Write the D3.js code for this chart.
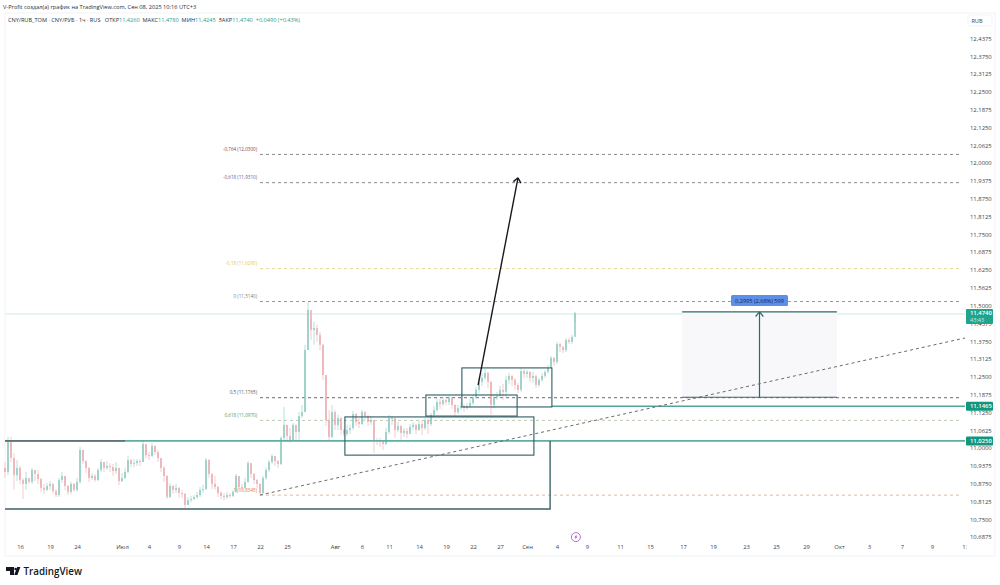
<!DOCTYPE html>
<html>
<head>
<meta charset="utf-8">
<script src="https://cdn.jsdelivr.net/npm/d3@7"></script>
<style>
	html, body { margin: 0; padding: 0; background: #fff; }
	text { font-family: "Open Sans", Roboto, sans-serif; }
</style>
</head>
<body>
<div id="chart"></div>
<script>
// CANDLES (one bar = 3 px of the original)
const closes = [10.916,11.028,10.965,10.905,10.930,10.888,10.874,10.895,10.881,10.923,10.909,10.891,10.860,10.853,10.867,10.874,10.849,10.835,10.888,10.902,10.867,10.846,10.874,10.853,10.881,10.993,10.954,10.930,10.895,10.902,10.888,10.923,10.951,10.930,10.937,10.933,10.919,10.930,10.884,10.895,10.916,10.958,10.944,10.947,10.954,10.951,11.014,10.975,10.972,11.007,10.986,10.965,10.930,10.902,10.828,10.867,10.853,10.860,10.842,10.839,10.800,10.817,10.821,10.828,10.835,10.853,10.856,10.958,10.909,10.874,10.863,10.842,10.832,10.828,10.835,10.832,10.846,10.902,10.863,10.860,10.881,10.947,10.909,10.888,10.874,10.842,10.895,10.923,10.951,10.972,10.954,10.944,11.035,11.081,11.042,11.028,11.081,11.056,11.112,11.126,11.344,11.484,11.414,11.421,11.397,11.362,11.256,11.098,11.039,11.126,11.081,11.105,11.063,11.049,11.063,11.070,11.119,11.091,11.084,11.126,11.112,11.091,11.098,11.028,11.025,11.021,11.014,11.056,11.105,11.105,11.063,11.077,11.053,11.060,11.049,11.074,11.081,11.063,11.084,11.070,11.098,11.084,11.116,11.133,11.161,11.154,11.168,11.161,11.176,11.151,11.126,11.140,11.147,11.140,11.147,11.158,11.176,11.204,11.232,11.246,11.263,11.232,11.151,11.179,11.183,11.204,11.197,11.239,11.253,11.239,11.221,11.204,11.270,11.260,11.267,11.246,11.253,11.221,11.239,11.253,11.267,11.281,11.316,11.302,11.365,11.355,11.344,11.379,11.372,11.390,11.474];
const highs = [10.951,11.039,11.039,10.982,10.958,10.937,10.895,10.916,10.888,10.930,10.923,10.923,10.895,10.874,10.877,10.884,10.877,10.856,10.895,10.916,10.902,10.870,10.881,10.877,10.895,11.004,10.993,10.958,10.933,10.912,10.909,10.930,10.961,10.951,10.954,10.947,10.944,10.951,10.930,10.912,10.930,10.972,10.961,10.961,10.961,10.961,11.025,11.014,10.986,11.018,11.011,10.993,10.965,10.937,10.905,10.877,10.870,10.874,10.863,10.853,10.842,10.828,10.832,10.835,10.846,10.863,10.870,10.965,10.961,10.912,10.902,10.867,10.849,10.842,10.846,10.842,10.853,10.909,10.902,10.874,10.895,10.954,10.947,10.912,10.891,10.877,10.902,10.933,10.958,10.979,10.972,10.958,11.042,11.144,11.081,11.070,11.088,11.081,11.126,11.151,11.362,11.512,11.456,11.442,11.432,11.407,11.365,11.256,11.133,11.151,11.133,11.116,11.109,11.070,11.081,11.081,11.130,11.123,11.105,11.133,11.130,11.116,11.112,11.098,11.035,11.035,11.028,11.070,11.116,11.112,11.105,11.091,11.081,11.070,11.070,11.084,11.091,11.084,11.095,11.098,11.105,11.105,11.123,11.147,11.176,11.172,11.179,11.176,11.183,11.179,11.154,11.151,11.161,11.154,11.158,11.172,11.186,11.214,11.246,11.263,11.277,11.267,11.235,11.190,11.197,11.218,11.225,11.253,11.263,11.256,11.246,11.228,11.281,11.277,11.274,11.270,11.267,11.256,11.246,11.263,11.274,11.291,11.323,11.319,11.372,11.369,11.358,11.386,11.386,11.397,11.477];
const lows = [10.895,10.905,10.951,10.853,10.884,10.874,10.821,10.853,10.874,10.874,10.884,10.874,10.846,10.839,10.849,10.853,10.839,10.828,10.828,10.877,10.853,10.835,10.839,10.846,10.846,10.874,10.944,10.912,10.881,10.888,10.881,10.884,10.916,10.916,10.923,10.916,10.902,10.909,10.870,10.881,10.891,10.912,10.933,10.933,10.937,10.937,10.951,10.965,10.958,10.968,10.975,10.951,10.916,10.881,10.821,10.825,10.839,10.842,10.825,10.825,10.789,10.800,10.810,10.817,10.821,10.828,10.842,10.853,10.895,10.856,10.853,10.828,10.821,10.817,10.821,10.825,10.828,10.842,10.846,10.849,10.853,10.877,10.895,10.874,10.860,10.835,10.839,10.888,10.916,10.944,10.937,10.930,10.940,11.028,11.021,11.018,11.025,11.028,11.021,11.105,11.126,11.344,11.379,11.362,11.372,11.344,11.239,11.077,11.025,11.035,11.063,11.063,11.046,11.039,11.042,11.049,11.063,11.077,11.070,11.081,11.098,11.077,11.081,10.982,11.011,11.004,10.993,11.011,11.049,11.081,11.035,11.056,11.028,11.039,11.035,11.060,11.063,11.049,11.060,11.046,11.063,11.049,11.077,11.109,11.126,11.137,11.147,11.151,11.151,11.137,11.112,11.119,11.133,11.126,11.133,11.140,11.151,11.172,11.193,11.218,11.239,11.211,11.116,11.140,11.168,11.176,11.168,11.176,11.225,11.218,11.204,11.193,11.197,11.246,11.246,11.232,11.228,11.211,11.214,11.232,11.246,11.260,11.281,11.288,11.295,11.337,11.333,11.337,11.365,11.365,11.442];

// AXIS
const priceTicks = [12.4375,12.375,12.3125,12.25,12.1875,12.125,12.0625,12,11.9375,11.875,11.8125,11.75,11.6875,11.625,11.5625,11.5,11.4375,11.375,11.3125,11.25,11.1875,11.125,11.0625,11,10.9375,10.875,10.8125,10.75,10.6875];
const timeBars = [5,15,24,39,48,58,67,76,85,94,110,119,128,138,147,156,165,174,184,194,205,215,226,236,247,257,267,278,288,299,309,320];
const timeLabels = ["16","19","24","Июл","4","9","14","17","22","25","Авг","6","11","14","19","22","27","Сен","4","9","11","15","17","19","23","25","29","Окт","3","7","9","13"];

// DRAWINGS
const fibLevels = [12.03,11.931,11.6295,11.514,11.1765,11.097,10.8345];
const fibLabels = ["-0,764 (12,0300)","-0,618 (11,9310)","-0,18 (11,6295)","0 (11,5140)","0,5 (11,1765)","0,618 (11,0970)","1 (10,8345)"];
const fibText = ["#8f3a48","#6a5a9c","#e8c84a","#808080","#555555","#4f9a50","#e07a30"];
const fibLine = ["#8a8a8a","#8a8a8a","#e6d998","#999999","#6a6a6a","#b9c9b2","#dfb9a0"];
const boxBars = [[113.3,176.3],[140.3,170.7],[152.3,182.3]];
const boxPrices = [[11.109,10.975],[11.186,11.112],[11.281,11.144]];
const lastPrice = 11.474;

const width = 1000, height = 585;
const panelLeft = 5, panelRight = 965, panelTop = 13, panelBottom = 556;

const svg = d3.select("#chart").append("svg")
	.attr("width", width)
	.attr("height", height)
	.style("display", "block");

const xScale = d3.scaleLinear().domain([0, 320]).range([panelLeft, panelRight]);
const yScale = d3.scaleLinear().domain([11, 12]).range([448, 163]);

const comma = v => d3.format(".4f")(v).replace(".", ",");

// frame
svg.append("rect").attr("x", panelLeft).attr("y", panelTop)
	.attr("width", 990).attr("height", panelBottom - panelTop)
	.attr("fill", "none").attr("stroke", "#f1f3f8");

svg.append("text").attr("x", 3).attr("y", 9)
	.attr("font-size", 5.65).attr("fill", "#2a2e39")
	.text("V-Profit создал(а) график на TradingView.com, Сен 08, 2025 10:16 UTC+3");

// legend line
const legendUp = "#2a9d8f";
const legend = svg.append("text").attr("x", 8).attr("y", 22).attr("font-size", 5.6).attr("fill", "#2a2e39");
[["CNY/RUB_TOM · CNY/РУБ · 1ч · RUS   ОТКР", 0], ["11,4260", 1], ["  МАКС", 0], ["11,4780", 1], ["  МИН", 0], ["11,4245", 1], ["  ЗАКР", 0], ["11,4740", 1], ["  +0,0490 (+0,43%)", 1]]
	.forEach(d => {
		legend.append("tspan").style("white-space", "pre")
			.attr("fill", d[1] ? legendUp : "#2a2e39").text(d[0]);
	});

// current price line
svg.append("line")
	.attr("x1", panelLeft).attr("x2", panelRight)
	.attr("y1", yScale(lastPrice) + 1).attr("y2", yScale(lastPrice) + 1)
	.attr("stroke", "#dcf0ec").attr("stroke-width", 1.5);

// fib levels
fibLevels.forEach((p, i) => {
	svg.append("line")
		.attr("x1", xScale(85)).attr("x2", xScale(319))
		.attr("y1", yScale(p)).attr("y2", yScale(p))
		.attr("stroke", fibLine[i])
		.attr("stroke-width", 1)
		.attr("stroke-dasharray", "3,3");
	svg.append("text")
		.attr("x", xScale(84)).attr("y", yScale(p) - 3.5)
		.attr("text-anchor", "end")
		.attr("font-size", 4.6)
		.attr("fill", fibText[i])
		.text(fibLabels[i]);
});

// candles
const bars = closes.map((c, i) => ({
	i: i,
	open: i == 0 ? 10.93 : closes[i - 1],
	close: c,
	high: highs[i],
	low: lows[i]
}));

const candle = svg.append("g").selectAll("g").data(bars).enter().append("g");

candle.append("line")
	.attr("x1", d => xScale(d.i)).attr("x2", d => xScale(d.i))
	.attr("y1", d => yScale(d.high)).attr("y2", d => yScale(d.low))
	.attr("stroke", d => d.close >= d.open ? "#a8d8cf" : "#efc0c3")
	.attr("stroke-width", 0.8);

candle.append("rect")
	.attr("x", d => xScale(d.i) - 0.7)
	.attr("y", d => yScale(Math.max(d.open, d.close)))
	.attr("width", 1.4)
	.attr("height", d => Math.max(1, Math.abs(yScale(d.open) - yScale(d.close))))
	.attr("fill", d => d.close >= d.open ? "#85c8bc" : "#e8a6ab");

// horizontal levels
svg.append("line").attr("x1", panelLeft).attr("x2", panelRight)
	.attr("y1", yScale(11.025)).attr("y2", yScale(11.025))
	.attr("stroke", "#5fae9f").attr("stroke-width", 1.6);
svg.append("line").attr("x1", panelLeft).attr("x2", xScale(40))
	.attr("y1", yScale(11.025)).attr("y2", yScale(11.025))
	.attr("stroke", "#5f7476").attr("stroke-width", 1.6);
svg.append("line").attr("x1", xScale(182.3)).attr("x2", panelRight)
	.attr("y1", yScale(11.1465)).attr("y2", yScale(11.1465))
	.attr("stroke", "#4fa596").attr("stroke-width", 1.6);

// big box under the range
svg.append("path")
	.attr("d", d3.line()([[xScale(0), yScale(10.786)], [xScale(181.7), yScale(10.786)], [xScale(181.7), yScale(11.025)]]))
	.attr("fill", "none").attr("stroke", "#3c636a").attr("stroke-width", 1.4);

// consolidation boxes
boxBars.forEach((b, i) => {
	svg.append("rect")
		.attr("x", xScale(b[0])).attr("y", yScale(boxPrices[i][0]))
		.attr("width", xScale(b[1]) - xScale(b[0]))
		.attr("height", yScale(boxPrices[i][1]) - yScale(boxPrices[i][0]))
		.attr("fill", "none").attr("stroke", "#2d5c62").attr("stroke-width", 1.1);
});

function arrowHead(x1, y1, x2, y2, size, color, w) {
	const a = Math.atan2(y2 - y1, x2 - x1);
	[-0.7, 0.7].forEach(s => {
		svg.append("line")
			.attr("x1", x2).attr("y1", y2)
			.attr("x2", x2 - size * Math.cos(a + s))
			.attr("y2", y2 - size * Math.sin(a + s))
			.attr("stroke", color).attr("stroke-width", w);
	});
}

// forecast arrow
const ax1 = xScale(157.7), ay1 = yScale(11.221), ax2 = xScale(171), ay2 = yScale(11.948);
svg.append("line").attr("x1", ax1).attr("y1", ay1).attr("x2", ax2).attr("y2", ay2)
	.attr("stroke", "#161a20").attr("stroke-width", 1.4);
arrowHead(ax1, ay1, ax2, ay2, 6, "#161a20", 1.4);

// price range measure
const mx0 = xScale(225.7), mx1 = xScale(277.3), mTop = yScale(11.4775), mBot = yScale(11.178), mMid = xScale(251.5);
svg.append("rect").attr("x", mx0).attr("y", mTop)
	.attr("width", mx1 - mx0).attr("height", mBot - mTop)
	.attr("fill", "#f8f8fa");
[mTop, mBot].forEach(y => {
	svg.append("line").attr("x1", mx0).attr("x2", mx1).attr("y1", y).attr("y2", y)
		.attr("stroke", "#2c6a6c").attr("stroke-width", 1.2);
});
svg.append("line").attr("x1", mMid).attr("x2", mMid).attr("y1", mBot).attr("y2", mTop)
	.attr("stroke", "#2c6a6c").attr("stroke-width", 1.2);
arrowHead(mMid, mBot, mMid, mTop, 6, "#2c6a6c", 1.2);

// trend line, on top of the measure fill
svg.append("line")
	.attr("x1", xScale(85)).attr("y1", yScale(10.835))
	.attr("x2", xScale(320)).attr("y2", yScale(11.386))
	.attr("stroke", "#6a6a6a").attr("stroke-width", 1).attr("stroke-dasharray", "3,3");

svg.append("rect").attr("x", 731).attr("y", 295).attr("width", 57).attr("height", 11)
	.attr("rx", 1.5).attr("fill", "#5b8fe8");
svg.append("text").attr("x", 759.5).attr("y", 302.6).attr("text-anchor", "middle")
	.attr("font-size", 5.6).attr("fill", "#14264f").text("0,2995 (2,68%) 599");

// lightning mark
const bolt = svg.append("g").attr("transform", `translate(${xScale(190.3)},${yScale(10.6875)})`);
bolt.append("circle").attr("r", 4.5).attr("fill", "#fff").attr("stroke", "#b25fcb").attr("stroke-width", 0.9);
bolt.append("path").attr("d", "M1,-2.8L-1.4,0.4H0L-1,2.8L1.5,-0.6H0Z").attr("fill", "#9b45b5");

// axes
const yAxis = d3.axisRight(yScale).tickValues(priceTicks).tickSize(0).tickPadding(0).tickFormat(comma);
const yG = svg.append("g").attr("transform", "translate(970,0)").call(yAxis);
yG.select(".domain").remove();
yG.selectAll("text").attr("font-size", 5.9).attr("fill", "#3a3f4a").attr("font-family", "'Open Sans', Roboto, sans-serif");

svg.append("clipPath").attr("id", "timeClip").append("rect")
	.attr("x", 0).attr("y", -10).attr("width", 966.5).attr("height", 30);

const xAxis = d3.axisBottom(xScale).tickValues(timeBars).tickSize(0).tickPadding(0)
	.tickFormat(d => timeLabels[timeBars.indexOf(d)]);
const xG = svg.append("g").attr("transform", "translate(0,545)").attr("clip-path", "url(#timeClip)").call(xAxis);
xG.select(".domain").remove();
xG.selectAll("text").attr("font-size", 5.9).attr("fill", "#3a3f4a").attr("font-family", "'Open Sans', Roboto, sans-serif");

// RUB box
svg.append("rect").attr("x", 968).attr("y", 15).attr("width", 24).attr("height", 11)
	.attr("rx", 1.5).attr("fill", "#fff").attr("stroke", "#f1f3f8");
svg.append("text").attr("x", 977).attr("y", 23).attr("text-anchor", "middle")
	.attr("font-size", 5.6).attr("fill", "#3a3f4a").text("RUB");

// price tags
function priceTag(price, label) {
	const y = yScale(price);
	svg.append("rect").attr("x", 966).attr("y", y - 4.5).attr("width", 27).attr("height", 9)
		.attr("rx", 1).attr("fill", "#12977f");
	svg.append("text").attr("x", 970).attr("y", y + 2.2)
		.attr("font-size", 5.9).attr("font-weight", 600).attr("fill", "#fff").text(label);
}
priceTag(11.1465, "11,1465");
priceTag(11.025, "11,0250");

svg.append("rect").attr("x", 966).attr("y", yScale(lastPrice) - 4)
	.attr("width", 27).attr("height", 15).attr("rx", 1).attr("fill", "#1fa58e");
svg.append("text").attr("x", 970).attr("y", yScale(lastPrice) + 2.5)
	.attr("font-size", 5.9).attr("font-weight", 600).attr("fill", "#fff").text(comma(lastPrice));
svg.append("text").attr("x", 970).attr("y", yScale(lastPrice) + 9)
	.attr("font-size", 5.6).attr("fill", "#c8ece6").text("43:43");

// logo
svg.append("path")
	.attr("d", "M6,567H14V575H10V571H6Z M17.2,567L20.4,567L17.4,575H14.2Z")
	.attr("fill", "#131722");
svg.append("circle").attr("cx", 15.6).attr("cy", 569).attr("r", 1.3).attr("fill", "#131722");
svg.append("text").attr("x", 23.5).attr("y", 575)
	.attr("font-size", 9.8).attr("font-weight", 600).attr("fill", "#131722")
	.text("TradingView");
</script>
</body>
</html>
